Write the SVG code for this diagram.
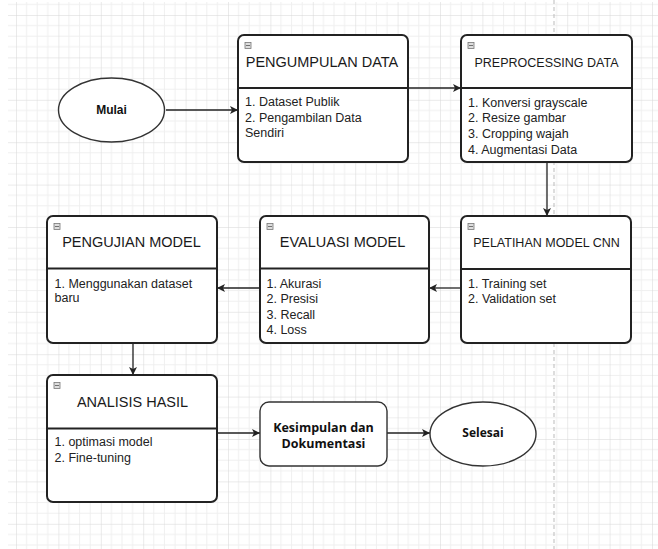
<svg xmlns="http://www.w3.org/2000/svg" width="658" height="549" viewBox="0 0 658 549">
<style>
.box{fill:#fff;stroke:#222;stroke-width:2}
.div{stroke:#222;stroke-width:2}
.title{font-family:"Liberation Sans",Arial,sans-serif;font-size:14.5px;fill:#1a1a1a;text-anchor:middle}
.title2{font-family:"Liberation Sans",Arial,sans-serif;font-size:12.5px;fill:#1a1a1a;text-anchor:middle}
.body{font-family:"Liberation Sans",Arial,sans-serif;font-size:12.5px;fill:#222}
.ic{fill:#ddd;stroke:#777;stroke-width:0.8}
.icm{stroke:#555;stroke-width:0.8}
.conn{stroke:#222;stroke-width:1.3;fill:none;marker-end:url(#ah)}
.term{fill:#fff;stroke:#333;stroke-width:1.4}
</style>
<defs>
<pattern id="grid" patternUnits="userSpaceOnUse" x="16" y="15" width="42.4" height="42.4">
<path d="M10.6 0V42.4M21.2 0V42.4M31.8 0V42.4M0 10.6H42.4M0 21.2H42.4M0 31.8H42.4" stroke="#efefef" stroke-width="1" fill="none"/>
<path d="M0 0V42.4M0 0H42.4" stroke="#d6d6d6" stroke-width="1" fill="none"/>
</pattern>
<marker id="ah" markerWidth="9" markerHeight="8" refX="8" refY="4" orient="auto" markerUnits="userSpaceOnUse">
<path d="M0,0 L8,4 L0,8 L2,4 z" fill="#222"/>
</marker>
</defs>
<rect width="658" height="549" fill="#fff"/>
<rect x="8" y="2" width="650" height="547" fill="url(#grid)"/>
<line x1="554" y1="0" x2="554" y2="549" stroke="#bbb" stroke-width="1" stroke-dasharray="4 3"/>

<g id="connectors">
<line class="conn" x1="166" y1="110" x2="238" y2="110"/>
<line class="conn" x1="408" y1="88" x2="461" y2="88"/>
<line class="conn" x1="547" y1="162" x2="547" y2="216"/>
<line class="conn" x1="461" y1="288" x2="429" y2="288"/>
<line class="conn" x1="260" y1="288" x2="217" y2="288"/>
<line class="conn" x1="133" y1="343" x2="133" y2="375"/>
<line class="conn" x1="217" y1="433" x2="260" y2="433"/>
<line class="conn" x1="387" y1="433" x2="430" y2="433"/>
</g>

<g id="mulai">
<ellipse class="term" cx="111.5" cy="110" rx="53" ry="32"/>
<text x="111.5" y="114" font-family="Liberation Sans,Arial,sans-serif" font-size="12" font-weight="bold" text-anchor="middle" fill="#111">Mulai</text>
</g>

<g id="pengumpulan">
<rect class="box" x="238" y="35" width="170" height="127" rx="6"/>
<line class="div" x1="238" y1="88" x2="408" y2="88"/>
<rect class="ic" x="245" y="42.5" width="6" height="6"/><line class="icm" x1="246" y1="45.5" x2="250" y2="45.5"/>
<text class="title" x="322" y="67">PENGUMPULAN DATA</text>
<text class="body" x="245" y="106">1. Dataset Publik</text>
<text class="body" x="245" y="121.5">2. Pengambilan Data</text>
<text class="body" x="245" y="137">Sendiri</text>
</g>

<g id="preprocessing">
<rect class="box" x="461" y="35" width="171" height="127" rx="6"/>
<line class="div" x1="461" y1="88" x2="632" y2="88"/>
<rect class="ic" x="468" y="42.5" width="6" height="6"/><line class="icm" x1="469" y1="45.5" x2="473" y2="45.5"/>
<text class="title2" x="546.5" y="67">PREPROCESSING DATA</text>
<text class="body" x="468" y="106.5">1. Konversi grayscale</text>
<text class="body" x="468" y="122">2. Resize gambar</text>
<text class="body" x="468" y="138">3. Cropping wajah</text>
<text class="body" x="468" y="153.5">4. Augmentasi Data</text>
</g>

<g id="pelatihan">
<rect class="box" x="461" y="216" width="170" height="127" rx="6"/>
<line class="div" x1="461" y1="269" x2="631" y2="269"/>
<rect class="ic" x="468" y="223.5" width="6" height="6"/><line class="icm" x1="469" y1="226.5" x2="473" y2="226.5"/>
<text class="title2" x="546.5" y="247">PELATIHAN MODEL CNN</text>
<text class="body" x="468" y="287.5">1. Training set</text>
<text class="body" x="468" y="303">2. Validation set</text>
</g>

<g id="evaluasi">
<rect class="box" x="260" y="216" width="169" height="127" rx="6"/>
<line class="div" x1="260" y1="268.5" x2="429" y2="268.5"/>
<rect class="ic" x="267" y="223.5" width="6" height="6"/><line class="icm" x1="268" y1="226.5" x2="272" y2="226.5"/>
<text class="title" x="342.5" y="247">EVALUASI MODEL</text>
<text class="body" x="266.5" y="287.5">1. Akurasi</text>
<text class="body" x="266.5" y="303">2. Presisi</text>
<text class="body" x="266.5" y="318.5">3. Recall</text>
<text class="body" x="266.5" y="333.5">4. Loss</text>
</g>

<g id="pengujian">
<rect class="box" x="47" y="216" width="170" height="127" rx="6"/>
<line class="div" x1="47" y1="268.5" x2="217" y2="268.5"/>
<rect class="ic" x="54" y="223.5" width="6" height="6"/><line class="icm" x1="55" y1="226.5" x2="59" y2="226.5"/>
<text class="title" x="131.5" y="247">PENGUJIAN MODEL</text>
<text class="body" x="54.5" y="287.5">1. Menggunakan dataset</text>
<text class="body" x="54.5" y="302">baru</text>
</g>

<g id="analisis">
<rect class="box" x="47" y="375" width="170" height="127" rx="6"/>
<line class="div" x1="47" y1="428.5" x2="217" y2="428.5"/>
<rect class="ic" x="54" y="382.5" width="6" height="6"/><line class="icm" x1="55" y1="385.5" x2="59" y2="385.5"/>
<text class="title" x="132.5" y="407">ANALISIS HASIL</text>
<text class="body" x="54.5" y="446">1. optimasi model</text>
<text class="body" x="54.5" y="462">2. Fine-tuning</text>
</g>

<g id="kesimpulan">
<rect x="260" y="402" width="127" height="64" rx="9" fill="#fff" stroke="#333" stroke-width="1.4"/>
<text x="323.5" y="431.5" font-family="Open Sans,sans-serif" font-size="12.5" font-weight="bold" text-anchor="middle" fill="#111">Kesimpulan dan</text>
<text x="323.5" y="447.5" font-family="Open Sans,sans-serif" font-size="12.5" font-weight="bold" text-anchor="middle" fill="#111">Dokumentasi</text>
</g>

<g id="selesai">
<ellipse class="term" cx="483" cy="434" rx="53" ry="32"/>
<text x="483" y="437" font-family="Open Sans,sans-serif" font-size="12" font-weight="bold" text-anchor="middle" fill="#111">Selesai</text>
</g>
</svg>
